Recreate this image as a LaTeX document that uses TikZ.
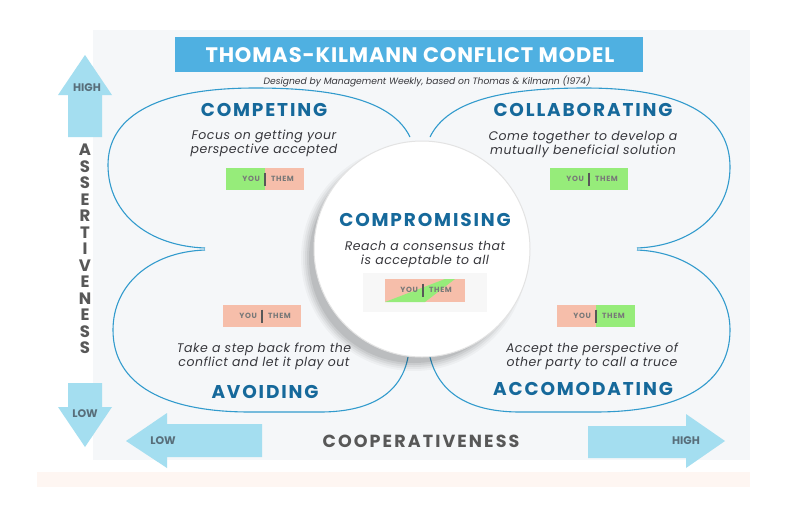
\documentclass[tikz,border=0pt]{standalone}
\usepackage{fontspec}
\setmainfont{Poppins}
\definecolor{titleblue}{RGB}{79,176,225}
\definecolor{headblue}{RGB}{22,105,155}
\definecolor{lobeline}{RGB}{50,155,205}
\definecolor{arrowblue}{RGB}{164,222,240}
\definecolor{arrowtext}{RGB}{88,110,122}
\definecolor{axisgray}{RGB}{88,88,88}
\definecolor{bodygray}{RGB}{55,55,60}
\definecolor{yougreen}{RGB}{150,236,122}
\definecolor{themsalmon}{RGB}{246,190,170}
\definecolor{ytgray}{RGB}{120,120,120}
\definecolor{bggray}{RGB}{245,247,249}
\definecolor{peachband}{RGB}{254,246,242}
\tikzset{
  head/.style={font=\bfseries\fontsize{18.5}{20}\selectfont\addfontfeatures{LetterSpace=10}, text=headblue, inner sep=0pt},
  desc/.style={font=\itshape\fontsize{12.5}{14}\selectfont\addfontfeatures{LetterSpace=4}, text=bodygray, align=center, inner sep=0pt},
  yt/.style={font=\bfseries\fontsize{7.5}{8}\selectfont\addfontfeatures{LetterSpace=8}, text=ytgray, inner sep=0pt},
  ytbar/.style={draw=axisgray, line width=1.6pt},
  lobe/.style={draw=lobeline, line width=1.1pt},
  axisarrow/.style={fill=arrowblue},
  arrowlabel/.style={font=\bfseries\fontsize{11}{12}\selectfont, text=arrowtext, inner sep=0pt},
}
\newcommand{\ytbox}[5]{%
  \fill[#4] (#2-39,#3-11) rectangle (#2,#3+11);
  \fill[#5] (#2,#3-11) rectangle (#2+39,#3+11);
  \draw[ytbar] (#2,#3-6.5) -- (#2,#3+6.5);
  \node[yt, anchor=east] (#1you) at (#2-5,#3) {YOU};
  \node[yt, anchor=west] (#1them) at (#2+6,#3) {THEM};
}
\begin{document}
\begin{tikzpicture}[x=1pt,y=-1pt]
\useasboundingbox (0,0) rectangle (800,509);
\fill[white] (0,0) rectangle (800,509);
\fill[bggray] (93,30) rectangle (750,460);
\fill[peachband] (37,472) rectangle (750,487);

% title
\fill[titleblue] (175,37) rectangle (643,72);
\node[font=\bfseries\fontsize{21}{24}\selectfont\addfontfeatures{LetterSpace=4}, text=white, inner sep=0pt] (title) at (410,55) {THOMAS-KILMANN CONFLICT MODEL};
\node[font=\itshape\fontsize{9.2}{10}\selectfont, text=bodygray, inner sep=0pt] (sub) at (427,81) {Designed by Management Weekly, based on Thomas \& Kilmann (1974)};

% lobes
\draw[lobe] (410,137) .. controls (392,100) and (335,88) .. (255,88)
  .. controls (150,88) and (108,120) .. (108,165)
  .. controls (108,215) and (150,246) .. (205,248);
\draw[lobe] (205,250) .. controls (150,252) and (113,285) .. (113,330)
  .. controls (113,385) and (165,412) .. (250,412)
  -- (320,412) .. controls (375,412) and (402,390) .. (408,357);
\draw[lobe] (430,137) .. controls (448,100) and (505,88) .. (585,88)
  .. controls (690,88) and (730,120) .. (730,167)
  .. controls (730,215) and (690,246) .. (637,248);
\draw[lobe] (637,250) .. controls (690,252) and (730,285) .. (730,330)
  .. controls (730,385) and (680,412) .. (595,412)
  -- (520,412) .. controls (465,412) and (438,390) .. (430,357);

% center circle with soft shadow
\foreach \r/\o in {113/0.03,111/0.04,109/0.05,107/0.06,105/0.07}{
  \fill[black, opacity=\o] (414,258) circle (\r);
}
\fill[white] (422,249) circle (108);
\draw[gray!22, line width=1pt] (422,249) circle (108);
\fill[black!3] (363,273) rectangle (487,312);

% axis arrows
\fill[axisarrow] (85,55) -- (112,95) -- (102,95) -- (102,137) -- (68,137) -- (68,95) -- (58,95) -- cycle;
\fill[axisarrow] (68,383) -- (102,383) -- (102,407) -- (112,407) -- (85,447) -- (58,407) -- (68,407) -- cycle;
\fill[axisarrow] (126,441) -- (167,413) -- (167,424) -- (262,424) -- (262,457) -- (167,457) -- (167,468) -- cycle;
\fill[axisarrow] (588,426) -- (686,426) -- (686,414) -- (725,441) -- (686,468) -- (686,458) -- (588,458) -- cycle;
\node[arrowlabel] (ahigh) at (87,88) {HIGH};
\node[arrowlabel] (alow) at (85,414) {LOW};
\node[arrowlabel] (clow) at (163,441) {LOW};
\node[arrowlabel] (chigh) at (686,441) {HIGH};
\node[font=\bfseries\fontsize{16.5}{16.5}\selectfont, text=axisgray, align=center, inner sep=0pt] (assert) at (85,249)
  {A\\S\\S\\E\\R\\T\\I\\V\\E\\N\\E\\S\\S};
\node[font=\bfseries\fontsize{17.5}{18}\selectfont\addfontfeatures{LetterSpace=12}, text=axisgray, inner sep=0pt] (coop) at (421,441) {COOPERATIVENESS};

% competing
\node[head] (competing) at (264,110) {COMPETING};
\node[desc] (competingd) at (264,143) {Focus on getting your\\perspective accepted};
\ytbox{competing}{265}{179}{yougreen}{themsalmon}

% collaborating
\node[head] (collab) at (583,110) {COLLABORATING};
\node[desc] (collabd) at (583,144) {Come together to develop a\\mutually beneficial solution};
\ytbox{collab}{589}{179}{yougreen}{yougreen}

% compromising
\node[head] (compro) at (425,220) {COMPROMISING};
\node[desc] (comprod) at (425,254) {Reach a consensus that\\is acceptable to all};
\fill[themsalmon] (385,279) rectangle (465,302);
\fill[yougreen] (385,302) -- (445,279) -- (455,279) -- (425,302) -- cycle;
\draw[ytbar] (423,283.5) -- (423,296.5);
\node[yt, anchor=east] (comproyou) at (418,290) {YOU};
\node[yt, anchor=west] (comprothem) at (429,290) {THEM};

% avoiding
\ytbox{avoid}{262}{316}{themsalmon}{themsalmon}
\node[desc] (avoidd) at (264,356) {Take a step back from the\\conflict and let it play out};
\node[head] (avoid) at (265,392) {AVOIDING};

% accomodating
\ytbox{accom}{596}{316}{themsalmon}{yougreen}
\node[desc] (accomd) at (592,356) {Accept the perspective of\\other party to call a truce};
\node[head] (accom) at (583,389) {ACCOMODATING};
\end{tikzpicture}
\end{document}
